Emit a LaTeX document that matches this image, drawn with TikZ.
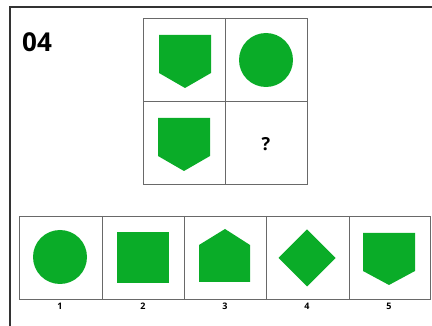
\documentclass[tikz,border=0pt]{standalone}
\usepackage{fontspec}
\setmainfont{Open Sans}
\definecolor{shapegreen}{RGB}{10,172,40}
\definecolor{gridgray}{RGB}{105,105,105}
\begin{document}
\begin{tikzpicture}[x=1pt,y=-1pt,
    cell/.style={gridgray,line width=0.9pt},
    figure/.style={fill=shapegreen},
    numlabel/.style={font=\bfseries\fontsize{9}{9}\selectfont}]
    \useasboundingbox (0,0) rectangle (432,326);

    % outer frame
    \draw[black!80,line width=1.2pt] (10,326) -- (10,7) -- (432,7);
    \node[font=\bfseries\fontsize{26}{26}\selectfont] (title) at (37,42) {04};

    % question grid
    \draw[cell] (143,18) rectangle (307,184);
    \draw[cell] (225,18) -- (225,184);
    \draw[cell] (143,101) -- (307,101);
    \fill[figure] (159,35) -- (211,35) -- (211,73) -- (185,88) -- (159,73) -- cycle;
    \fill[figure] (266,60) circle (27pt);
    \fill[figure] (158,118) -- (210,118) -- (210,156) -- (184,171) -- (158,156) -- cycle;
    \node[font=\bfseries\fontsize{18}{18}\selectfont] (query) at (266,144) {?};

    % answer row
    \draw[cell] (19,216) rectangle (430,299);
    \foreach \xdiv in {102,184,266,349}
        \draw[cell] (\xdiv,216) -- (\xdiv,299);
    \fill[figure] (60,257) circle (27pt);
    \fill[figure] (117,232) rectangle (169,283);
    \fill[figure] (199,245) -- (225,229) -- (250,245) -- (250,282) -- (199,282) -- cycle;
    \fill[figure] (307,229.5) -- (335.5,258) -- (307,286.5) -- (278.5,258) -- cycle;
    \fill[figure] (363,233) -- (415,233) -- (415,271) -- (389,285) -- (363,271) -- cycle;

    % option numbers
    \foreach \xnum/\num in {60/1,143/2,225/3,307/4,389/5}
        \node[numlabel] (opt\num) at (\xnum,306) {\num};
\end{tikzpicture}
\end{document}
